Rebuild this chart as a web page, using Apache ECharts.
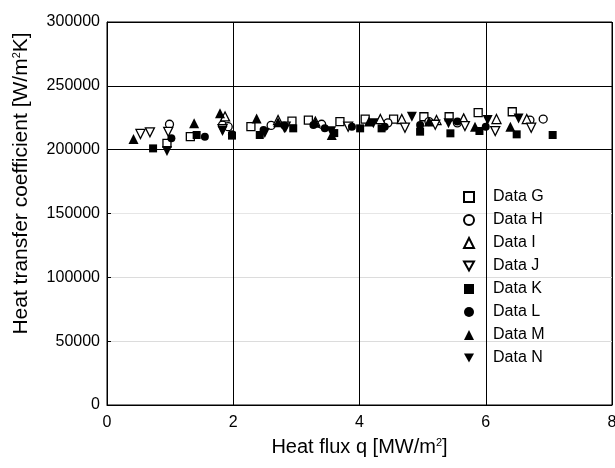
<!DOCTYPE html>
<html>
<head>
<meta charset="utf-8">
<script src="https://cdn.jsdelivr.net/npm/echarts@6/dist/echarts.min.js"></script>
<style>html,body{margin:0;padding:0;background:#fff}#c{width:615px;height:468px}</style>
</head>
<body>
<div id="c"></div>
<script>
var xTicks = [0, 2, 4, 6, 8];
var yTicks = [0, 50000, 100000, 150000, 200000, 250000, 300000];
var seriesNames = ['Data G', 'Data H', 'Data I', 'Data J', 'Data K', 'Data L', 'Data M', 'Data N'];

var dataG = [[0.95,205000],[1.32,210200],[2.28,218000],[2.93,222400],[3.19,223200],[3.69,221900],[4.09,224000],[4.54,224000],[5.02,225800],[5.42,225800],[5.88,229000],[6.42,229700]];
var dataH = [[0.99,219900],[1.83,219300],[1.92,218000],[2.6,219000],[3.40,219900],[4.45,221000],[5.10,222000],[5.55,221000],[6.70,223200],[6.91,224000]];
var dataI = [[1.87,226000],[2.71,223200],[3.30,222000],[4.33,224000],[4.67,224000],[5.22,223200],[5.65,224500],[6.17,224000],[6.65,224000]];
var dataJ = [[0.53,212300],[0.68,213600],[0.97,214000],[1.83,216000],[2.83,218000],[3.82,218000],[4.72,217200],[5.20,219500],[5.67,218500],[6.15,214600],[6.72,217200]];
var dataK = [[0.73,201000],[1.42,211500],[1.98,211000],[2.42,211500],[2.95,216700],[3.60,213000],[4.01,216700],[4.35,216700],[4.96,214100],[5.44,212800],[5.90,214600],[6.49,212000],[7.06,211500]];
var dataL = [[1.02,208900],[1.55,210200],[1.98,212000],[2.48,215400],[2.81,219000],[3.27,219300],[3.45,216700],[3.88,218000],[4.40,218000],[4.96,219300],[5.55,222000],[6.00,218000]];
var dataM = [[0.42,208400],[1.38,220600],[1.79,228500],[2.37,224500],[2.71,221500],[3.30,221000],[3.56,211500],[4.15,222000],[5.10,222000],[5.83,218000],[6.39,218000]];
var dataN = [[0.95,199000],[1.83,214600],[2.50,213000],[2.81,216700],[3.55,214500],[4.22,220600],[4.83,225800],[5.41,220600],[6.03,223200],[6.52,224500]];

var allData = [dataG, dataH, dataI, dataJ, dataK, dataL, dataM, dataN];
var symbols = ['rect', 'circle', 'triangle', 'triangle', 'rect', 'circle', 'triangle', 'triangle'];
var rotations = [0, 0, 0, 180, 0, 0, 0, 180];
var filled = [false, false, false, false, true, true, true, true];
var sizes = [8, 8, 9, 9, 8, 8, 10, 10];
var DOWN_TRI = 'path://M0,0L10,0L5,9Z';
var legendIcons = ['rect', 'circle', 'triangle', DOWN_TRI, 'rect', 'circle', 'triangle', DOWN_TRI];

var FONT = 'Liberation Sans, Arial, Helvetica, sans-serif';
var chart = echarts.init(document.getElementById('c'), null, {renderer: 'canvas'});

var series = seriesNames.map(function (n, i) {
  return {
    name: n,
    type: 'scatter',
    data: allData[i],
    symbol: symbols[i],
    symbolRotate: rotations[i],
    symbolSize: sizes[i],
    itemStyle: {
      color: filled[i] ? '#000' : '#fff',
      borderColor: '#000',
      borderWidth: filled[i] ? 0 : 1.3,
      opacity: 1
    },
    emphasis: {disabled: true},
    animation: false
  };
});

var supRich = {sup: {fontSize: 11, verticalAlign: 'top', padding: [0, 0, 9, 0], fontFamily: FONT, color: '#000'}};

chart.setOption({
  backgroundColor: '#fff',
  animation: false,
  textStyle: {fontFamily: FONT},
  grid: {left: 107, right: 3, top: 22, bottom: 63, show: true, borderColor: '#000', borderWidth: 1, backgroundColor: 'transparent', outerBoundsMode: 'none', containLabel: false},
  legend: {
    orient: 'vertical',
    left: 458,
    top: 184,
    itemWidth: 10,
    itemHeight: 10,
    itemGap: 7,
    textStyle: {fontFamily: FONT, fontSize: 16, color: '#000', lineHeight: 16, padding: [0, 0, 0, 14]},
    data: seriesNames.map(function (n, i) {
      return {name: n, icon: legendIcons[i]};
    })
  },
  xAxis: {
    type: 'value',
    min: xTicks[0],
    max: xTicks[xTicks.length - 1],
    interval: 2,
    name: 'Heat flux q [MW/m{sup|2}]',
    nameLocation: 'middle',
    nameGap: 32,
    nameTextStyle: {fontFamily: FONT, fontSize: 20, color: '#000', rich: supRich},
    axisLine: {show: true, lineStyle: {color: '#000', width: 1}},
    axisTick: {show: true, inside: true, length: 4, lineStyle: {color: '#000'}},
    axisLabel: {fontFamily: FONT, fontSize: 16, color: '#000', margin: 10},
    splitLine: {show: true, lineStyle: {color: '#000', width: 1}}
  },
  yAxis: {
    type: 'value',
    min: yTicks[0],
    max: yTicks[yTicks.length - 1],
    interval: 50000,
    name: 'Heat transfer coefficient [W/m{sup|2}K]',
    nameLocation: 'middle',
    nameGap: 75,
    nameRotate: 90,
    nameTextStyle: {fontFamily: FONT, fontSize: 21, color: '#000', padding: [0, 0, 0, 60], rich: supRich},
    axisLine: {show: true, lineStyle: {color: '#000', width: 1}},
    axisTick: {show: true, inside: true, length: 4, lineStyle: {color: '#000'}},
    axisLabel: {fontFamily: FONT, fontSize: 16, color: '#000', margin: 7, formatter: function (v) { return String(v); }},
    splitLine: {show: true, lineStyle: {color: ['#000', '#dcdcdc', '#dcdcdc', '#e6e6e6', '#000', '#000', '#000'], width: 1}}
  },
  series: series
});
</script>
</body>
</html>
